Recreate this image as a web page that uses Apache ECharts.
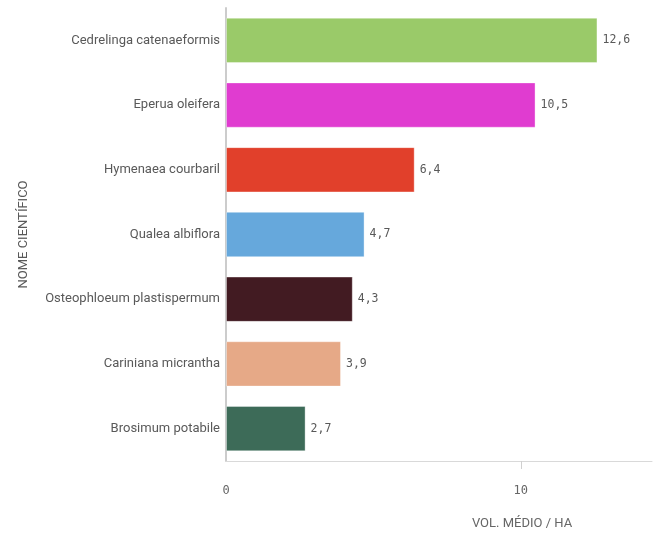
<!DOCTYPE html>
<html lang="pt">
<head>
<meta charset="utf-8">
<title>Vol. médio / ha</title>
<script src="https://cdn.jsdelivr.net/npm/echarts@6/dist/echarts.min.js"></script>
</head>
<body style="margin:0">
<div id="container" style="width:660px;height:535px"></div>
<script type="text/javascript">
    // especies, de cima para baixo
    var especies = ['Cedrelinga catenaeformis', 'Eperua oleifera', 'Hymenaea courbaril', 'Qualea albiflora',
        'Osteophloeum plastispermum', 'Cariniana micrantha', 'Brosimum potabile'];
    var volumes = [12.6, 10.5, 6.4, 4.7, 4.3, 3.9, 2.7];
    var cores = ['#9aca69', '#e03cd0', '#e1402b', '#66a8dc', '#421b22', '#e6a987', '#3d6b58'];
    var xTicks = [0, 10];

    var myChart = echarts.init(document.getElementById('container'), null, {renderer: 'canvas'});
    var option = {
        animation: false,
        grid: {left: 226, right: 8, top: 8, bottom: 68},
        xAxis: {
            type: 'value',
            min: 0,
            max: 14.45,
            interval: 10,
            name: 'VOL. MÉDIO / HA',
            nameLocation: 'middle',
            nameGap: 56,
            nameTextStyle: {color: '#666666', fontSize: 13, fontFamily: 'Roboto', padding: [0, 0, 0, 166]},
            axisLine: {show: true, lineStyle: {color: '#d9d9d9', width: 1}},
            axisTick: {
                show: true, length: 8, lineStyle: {color: '#d0d0d0'},
                customValues: [10]
            },
            axisLabel: {
                color: '#666666', fontSize: 12, fontFamily: 'DejaVu Sans Mono', margin: 24,
                customValues: xTicks
            },
            splitLine: {show: false}
        },
        yAxis: {
            type: 'category',
            inverse: true,
            data: especies,
            name: 'NOME CIENTÍFICO',
            nameLocation: 'middle',
            nameGap: 196,
            nameTextStyle: {color: '#595959', fontSize: 13, fontFamily: 'Roboto'},
            axisLine: {show: true, lineStyle: {color: '#cccccc', width: 2}},
            axisTick: {show: false},
            axisLabel: {color: '#595959', fontSize: 13, fontFamily: 'Roboto', margin: 6}
        },
        series: [{
            type: 'bar',
            barCategoryGap: '30%',
            data: volumes.map(function (v, i) {
                return {value: v, itemStyle: {color: cores[i]}};
            }),
            itemStyle: {borderColor: 'rgba(255,255,255,0.35)', borderWidth: 1},
            label: {
                show: true,
                position: 'right',
                distance: 5,
                color: '#595959',
                fontSize: 11.5,
                fontFamily: 'DejaVu Sans Mono',
                formatter: function (p) {
                    return String(p.value).replace('.', ',');
                }
            }
        }]
    };
    myChart.setOption(option);
</script>
</body>
</html>
